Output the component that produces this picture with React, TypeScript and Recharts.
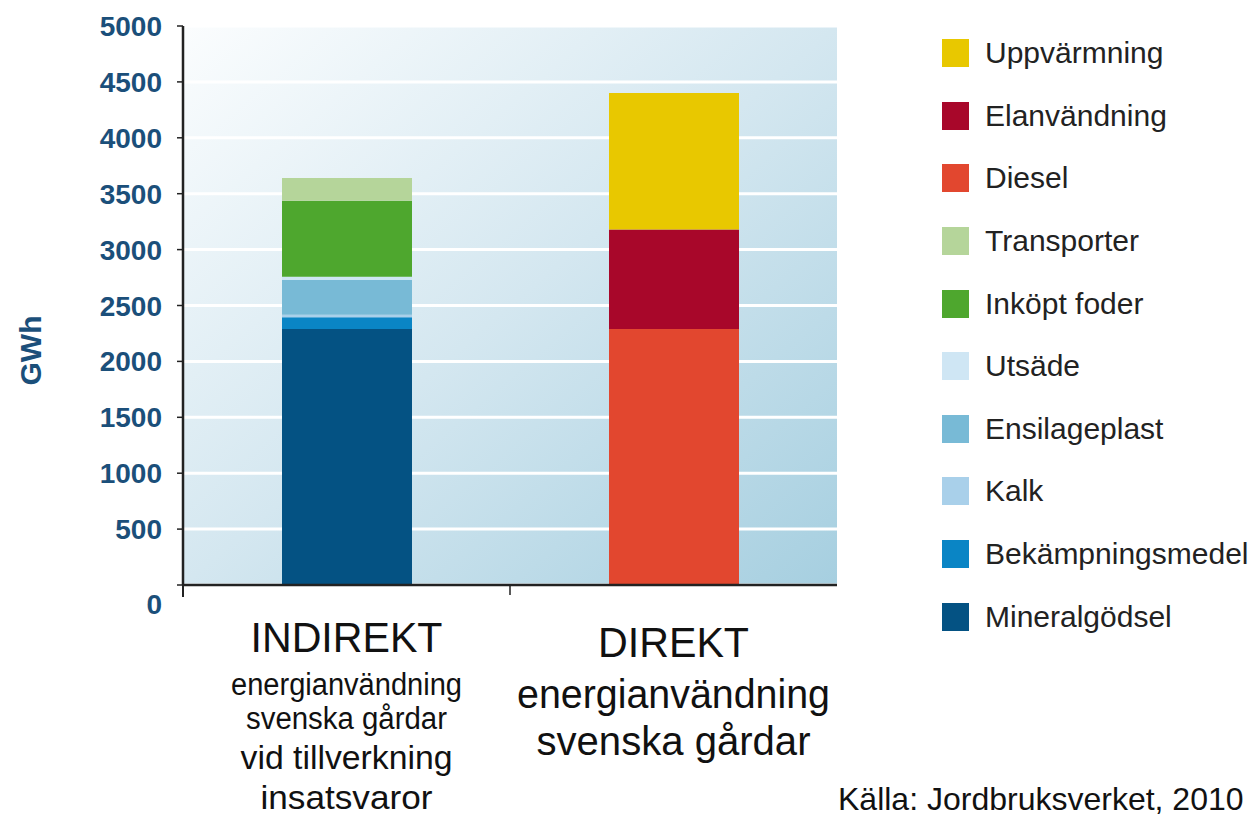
import { Bar, BarChart, CartesianGrid, XAxis, YAxis } from 'recharts';

const categories = ['INDIREKT', 'DIREKT'];
// lines under each category: text, font size, rendered width, baseline below the axis
const subLines: { text: string; size: number; len: number; base: number }[][] = [
  [
    { text: 'INDIREKT', size: 43, len: 192, base: 67 },
    { text: 'energianvändning', size: 31, len: 231, base: 110 },
    { text: 'svenska gårdar', size: 31, len: 201, base: 144 },
    { text: 'vid tillverkning', size: 34, len: 212, base: 184 },
    { text: 'insatsvaror', size: 33, len: 172, base: 224 },
  ],
  [
    { text: 'DIREKT', size: 43, len: 151, base: 72 },
    { text: 'energianvändning', size: 40, len: 313, base: 123 },
    { text: 'svenska gårdar', size: 40, len: 274, base: 170 },
  ],
];

// stacked bottom -> top
const seriesNames = [
  'Mineralgödsel',
  'Bekämpningsmedel',
  'Kalk',
  'Ensilageplast',
  'Utsäde',
  'Inköpt foder',
  'Transporter',
  'Diesel',
  'Elanvändning',
  'Uppvärmning',
];
const seriesColors = [
  '#045283',
  '#0a85c5',
  '#a9d0ea',
  '#78bad6',
  '#cfe6f4',
  '#4ea72e',
  '#b5d59a',
  '#e2472f',
  '#a8072a',
  '#e8c800',
];
const indirektValues = [2290, 104, 24, 310, 30, 679, 203, 0, 0, 0];
const direktValues = [0, 0, 0, 0, 0, 0, 0, 2290, 890, 1220];
const yTicks = [0, 500, 1000, 1500, 2000, 2500, 3000, 3500, 4000, 4500, 5000];

const rows = categories.map((c, ci) => {
  const row: Record<string, string | number> = { name: c };
  seriesNames.forEach((s, i) => {
    row[s] = ci === 0 ? indirektValues[i] : direktValues[i];
  });
  return row;
});

const FONT = '"Liberation Sans", Arial, sans-serif';
const AXIS_BLUE = '#1b4f7a';
const BAND = (837 - 183) / categories.length;
const AXIS_Y = 585;

function XTick(props: any) {
  const { x, payload, index } = props;
  const lines = subLines[index] ?? [];
  return (
    <g>
      {index === 0 ? (
        <line x1={x + BAND / 2} x2={x + BAND / 2} y1={AXIS_Y} y2={AXIS_Y + 10} stroke="#222" strokeWidth={1.5} />
      ) : null}
      {index === 0 ? (
        <line x1={x - BAND / 2} x2={x - BAND / 2} y1={AXIS_Y} y2={AXIS_Y + 12} stroke="#222" strokeWidth={2} />
      ) : null}
      {lines.map((l) => (
        <text
          key={l.text + payload.value}
          x={x - l.len / 2}
          y={AXIS_Y + l.base}
          textLength={l.len}
          lengthAdjust="spacingAndGlyphs"
          fontSize={l.size}
          fontFamily={FONT}
          fill="#111"
        >
          {l.text}
        </text>
      ))}
    </g>
  );
}

function YTick(props: any) {
  const { x, y, payload } = props;
  const shift = payload.value === 0 ? 19 : 0;
  return (
    <text
      x={x}
      y={y + shift}
      dy={10}
      textAnchor="end"
      fontSize={28}
      fontWeight="bold"
      fontFamily={FONT}
      fill={AXIS_BLUE}
    >
      {payload.value}
    </text>
  );
}

function GwhLabel(props: any) {
  const vb = props.viewBox ?? { x: 0, y: 0, width: 0, height: 0 };
  const cx = 30;
  const cy = vb.y + vb.height / 2 + 45;
  return (
    <text
      x={cx}
      y={cy}
      transform={`rotate(-90 ${cx} ${cy})`}
      textAnchor="middle"
      dominantBaseline="central"
      fontSize={30}
      fontWeight="bold"
      fontFamily={FONT}
      fill={AXIS_BLUE}
    >
      GWh
    </text>
  );
}

function LegendBox() {
  const items = seriesNames.map((n, i) => ({ name: n, color: seriesColors[i] })).reverse();
  return (
    <div style={{ position: 'absolute', left: 942, top: 22, fontFamily: FONT }}>
      {items.map((k) => (
        <div key={k.name} style={{ display: 'flex', alignItems: 'center', height: 62.6 }}>
          <span style={{ width: 27, height: 28, background: k.color, display: 'inline-block', marginRight: 16 }} />
          <span style={{ fontSize: 30, color: '#222' }}>{k.name}</span>
        </div>
      ))}
    </div>
  );
}

export default function App() {
  return (
    <div style={{ position: 'absolute', left: 0, top: 0, width: 1259, height: 820, background: '#fff', overflow: 'hidden' }}>
      <BarChart
        width={1259}
        height={820}
        data={rows}
        margin={{ top: 26, right: 422, left: 83, bottom: 195 }}
        barSize={130}
      >
        <defs>
          <linearGradient id="bg" x1="0" y1="0" x2="1" y2="1">
            <stop offset="0%" stopColor="#fbfdfe" />
            <stop offset="50%" stopColor="#d4e7f0" />
            <stop offset="100%" stopColor="#a6cfe0" />
          </linearGradient>
        </defs>
        <CartesianGrid vertical={false} fill="url(#bg)" fillOpacity={1} stroke="#ffffff" strokeWidth={3} />
        <XAxis
          dataKey="name"
          height={40}
          tick={<XTick />}
          tickLine={false}
          axisLine={{ stroke: '#222', strokeWidth: 2.5 }}
          interval={0}
        />
        <YAxis
          width={100}
          domain={[0, 5000]}
          ticks={yTicks}
          interval={0}
          tick={<YTick />}
          tickSize={6}
          tickMargin={15}
          tickLine={{ stroke: '#222', strokeWidth: 1.5 }}
          axisLine={{ stroke: '#222', strokeWidth: 2.5 }}
          label={<GwhLabel />}
        />
        {seriesNames.map((s, i) => (
          <Bar key={s} dataKey={s} stackId="a" fill={seriesColors[i]} isAnimationActive={false} />
        ))}
      </BarChart>
      <LegendBox />
      <div
        style={{
          position: 'absolute',
          left: 838,
          top: 781,
          fontFamily: FONT,
          fontSize: 32,
          color: '#111',
          whiteSpace: 'nowrap',
        }}
      >
        Källa: Jordbruksverket, 2010
      </div>
    </div>
  );
}
